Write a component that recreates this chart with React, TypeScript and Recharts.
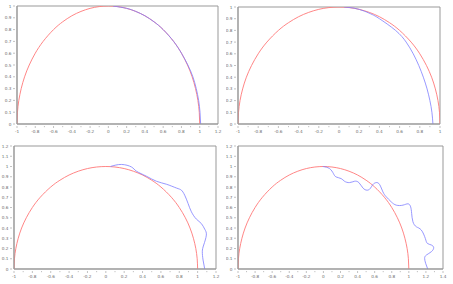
import React from 'react';
import { LineChart, Line, XAxis, YAxis, ReferenceArea } from 'recharts';

// red reference semicircle
const circleX = [-1, -0.995, -0.98, -0.954, -0.917, -0.866, -0.8, -0.714, -0.6, -0.5, -0.4, -0.3, -0.2, -0.1, 0, 0.1, 0.2, 0.3, 0.4, 0.5, 0.6, 0.714, 0.8, 0.866, 0.917, 0.954, 0.98, 0.995, 1];
const circleY = [0, 0.1, 0.2, 0.3, 0.4, 0.5, 0.6, 0.7, 0.8, 0.866, 0.917, 0.954, 0.98, 0.995, 1, 0.995, 0.98, 0.954, 0.917, 0.866, 0.8, 0.7, 0.6, 0.5, 0.4, 0.3, 0.2, 0.1, 0];

// blue curves, one per panel
const blue1X = [0.05, 0.2, 0.3, 0.4, 0.5, 0.6, 0.714, 0.8, 0.87, 0.925, 0.962, 0.988, 1.003, 1.01];
const blue1Y = [1, 0.98, 0.954, 0.917, 0.866, 0.8, 0.7, 0.6, 0.5, 0.4, 0.3, 0.2, 0.1, 0];

const blue2X = [0.05, 0.15, 0.25, 0.33, 0.4, 0.56, 0.665, 0.735, 0.79, 0.835, 0.872, 0.9, 0.92, 0.93];
const blue2Y = [1, 0.99, 0.965, 0.935, 0.9, 0.8, 0.7, 0.6, 0.5, 0.4, 0.3, 0.2, 0.1, 0];

const blue3X = [0.05, 0.17, 0.28, 0.334, 0.443, 0.551, 0.66, 0.769, 0.823, 0.859, 0.896, 0.932, 0.986, 1.04, 1.077, 1.095, 1.066, 1.051, 1.059, 1.077];
const blue3Y = [1.0, 1.02, 0.995, 0.954, 0.905, 0.856, 0.827, 0.79, 0.769, 0.72, 0.639, 0.558, 0.487, 0.444, 0.389, 0.331, 0.234, 0.169, 0.088, 0];

const blue4X = [-0.007, 0.071, 0.118, 0.149, 0.208, 0.247, 0.306, 0.364, 0.415, 0.462, 0.509, 0.548, 0.579, 0.618, 0.658, 0.697, 0.736, 0.794, 0.853, 0.931, 0.99, 1.021, 1.033, 1.048, 1.088, 1.146, 1.193, 1.217, 1.264, 1.291, 1.264, 1.205, 1.185, 1.197, 1.221];
const blue4Y = [1.0, 0.98, 0.93, 0.898, 0.882, 0.856, 0.843, 0.856, 0.843, 0.791, 0.769, 0.785, 0.824, 0.843, 0.824, 0.752, 0.704, 0.655, 0.623, 0.623, 0.636, 0.607, 0.542, 0.461, 0.412, 0.38, 0.298, 0.25, 0.234, 0.208, 0.169, 0.136, 0.104, 0.055, 0];

// axis ticks
const xTicks12 = [-1, -0.9, -0.8, -0.7, -0.6, -0.5, -0.4, -0.3, -0.2, -0.1, 0, 0.1, 0.2, 0.3, 0.4, 0.5, 0.6, 0.7, 0.8, 0.9, 1, 1.1, 1.2];
const xTicks10 = [-1, -0.9, -0.8, -0.7, -0.6, -0.5, -0.4, -0.3, -0.2, -0.1, 0, 0.1, 0.2, 0.3, 0.4, 0.5, 0.6, 0.7, 0.8, 0.9, 1];
const xTicks14 = [-1, -0.9, -0.8, -0.7, -0.6, -0.5, -0.4, -0.3, -0.2, -0.1, 0, 0.1, 0.2, 0.3, 0.4, 0.5, 0.6, 0.7, 0.8, 0.9, 1, 1.1, 1.2, 1.3, 1.4];
const yTicks10 = [0, 0.1, 0.2, 0.3, 0.4, 0.5, 0.6, 0.7, 0.8, 0.9, 1];
const yTicks12 = [0, 0.1, 0.2, 0.3, 0.4, 0.5, 0.6, 0.7, 0.8, 0.9, 1, 1.1, 1.2];

const RED = '#ff7878';
const BLUE = '#7e7eff';
const AXIS = '#999999';
const LABEL = '#6a6a6a';
const FONT = 'DejaVu Sans, sans-serif';

const zip = (xs: number[], ys: number[]) => xs.map((x, i) => ({ x, y: ys[i] }));

const fmt = (v: number) => String(Math.round(v * 10) / 10);

const XTick = (props: any) => {
  const { x, y, payload } = props;
  const v = Math.round(payload.value * 10);
  const major = v % 2 === 0;
  return (
    <g>
      <line x1={x} x2={x} y1={y - 2} y2={y - 2 + (major ? 2 : 1.2)} stroke={AXIS} strokeWidth={0.6} />
      {major && (
        <text x={x} y={y + 5} textAnchor="middle" fontSize={4.2} fill={LABEL} fontFamily={FONT}>
          {fmt(payload.value)}
        </text>
      )}
    </g>
  );
};

const YTick = (props: any) => {
  const { x, y, payload } = props;
  return (
    <g>
      <line x1={x + 2} x2={x} y1={y} y2={y} stroke={AXIS} strokeWidth={0.6} />
      <text x={x - 1.5} y={y + 1.5} textAnchor="end" fontSize={4.2} fill={LABEL} fontFamily={FONT}>
        {fmt(payload.value)}
      </text>
    </g>
  );
};

interface PanelProps {
  left: number;
  top: number;
  width: number;
  height: number;
  margin: { top: number; right: number; left: number; bottom: number };
  yAxisWidth: number;
  xAxisHeight: number;
  xMax: number;
  yMax: number;
  xTicks: number[];
  yTicks: number[];
  blue: { x: number; y: number }[];
}

function Panel(p: PanelProps) {
  return (
    <div style={{ position: 'absolute', left: p.left, top: p.top }}>
      <LineChart width={p.width} height={p.height} margin={p.margin}>
        <XAxis
          type="number"
          dataKey="x"
          domain={[-1, p.xMax]}
          ticks={p.xTicks}
          interval={0}
          allowDataOverflow
          height={p.xAxisHeight}
          tickSize={2}
          tickLine={false}
          axisLine={{ stroke: AXIS }}
          tick={<XTick />}
        />
        <YAxis
          type="number"
          dataKey="y"
          domain={[0, p.yMax]}
          ticks={p.yTicks}
          interval={0}
          allowDataOverflow
          width={p.yAxisWidth}
          tickSize={2}
          tickLine={false}
          axisLine={{ stroke: AXIS }}
          tick={<YTick />}
        />
        <ReferenceArea x1={-1} x2={p.xMax} y1={0} y2={p.yMax} fill="none" stroke={AXIS} strokeWidth={1} />
        <Line
          data={zip(circleX, circleY)}
          dataKey="y"
          type="natural"
          stroke={RED}
          strokeWidth={0.9}
          dot={false}
          isAnimationActive={false}
        />
        <Line
          data={p.blue}
          dataKey="y"
          type="natural"
          stroke={BLUE}
          strokeWidth={0.8}
          dot={false}
          isAnimationActive={false}
        />
      </LineChart>
    </div>
  );
}

export default function App() {
  return (
    <div style={{ position: 'absolute', left: 0, top: 0, width: 453, height: 284, background: '#fff' }}>
      <Panel
        left={0}
        top={0}
        width={226}
        height={142}
        margin={{ top: 6, right: 8, left: 0, bottom: 0 }}
        yAxisWidth={17}
        xAxisHeight={18}
        xMax={1.2}
        yMax={1}
        xTicks={xTicks12}
        yTicks={yTicks10}
        blue={zip(blue1X, blue1Y)}
      />
      <Panel
        left={226}
        top={0}
        width={227}
        height={142}
        margin={{ top: 7, right: 13, left: 0, bottom: 0 }}
        yAxisWidth={12}
        xAxisHeight={18}
        xMax={1}
        yMax={1}
        xTicks={xTicks10}
        yTicks={yTicks10}
        blue={zip(blue2X, blue2Y)}
      />
      <Panel
        left={0}
        top={142}
        width={226}
        height={142}
        margin={{ top: 4, right: 10, left: 0, bottom: 0 }}
        yAxisWidth={14}
        xAxisHeight={15}
        xMax={1.2}
        yMax={1.2}
        xTicks={xTicks12}
        yTicks={yTicks12}
        blue={zip(blue3X, blue3Y)}
      />
      <Panel
        left={226}
        top={142}
        width={227}
        height={142}
        margin={{ top: 4, right: 10, left: 0, bottom: 0 }}
        yAxisWidth={12}
        xAxisHeight={15}
        xMax={1.4}
        yMax={1.2}
        xTicks={xTicks14}
        yTicks={yTicks12}
        blue={zip(blue4X, blue4Y)}
      />
    </div>
  );
}
